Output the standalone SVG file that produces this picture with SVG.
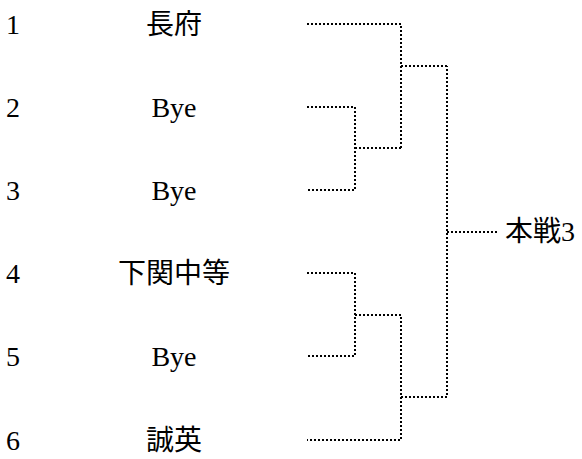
<svg xmlns="http://www.w3.org/2000/svg" width="582" height="459" viewBox="0 0 582 459">
<style>
text{font-family:"Liberation Serif","Noto Sans CJK JP",serif;font-size:28px;fill:#000}
.n{text-anchor:middle}
.c{fill:none;stroke:#000;stroke-width:2;stroke-dasharray:2 2}
</style>
<rect width="582" height="459" fill="#fff"/>
<g id="seed1"><text x="6" y="34">1</text><text class="n" x="174" y="34">長府</text></g>
<g id="seed2"><text x="6" y="117">2</text><text class="n" x="174" y="117">Bye</text></g>
<g id="seed3"><text x="6" y="200">3</text><text class="n" x="174" y="200">Bye</text></g>
<g id="seed4"><text x="6" y="283">4</text><text class="n" x="174" y="283">下関中等</text></g>
<g id="seed5"><text x="6" y="366">5</text><text class="n" x="174" y="366">Bye</text></g>
<g id="seed6"><text x="6" y="450">6</text><text class="n" x="174" y="450">誠英</text></g>
<g id="final"><text x="505" y="241">本戦3</text></g>
<g id="connectors">
<path class="c" d="M307 107H355V190H307"/>
<path class="c" d="M355 148H401"/>
<path class="c" d="M307 24H401V148"/>
<path class="c" d="M401 66H447"/>
<path class="c" d="M307 273H355V356H307"/>
<path class="c" d="M355 315H401V440H307"/>
<path class="c" d="M401 397H447V66"/>
<path class="c" d="M447 232H497"/>
</g>
</svg>
